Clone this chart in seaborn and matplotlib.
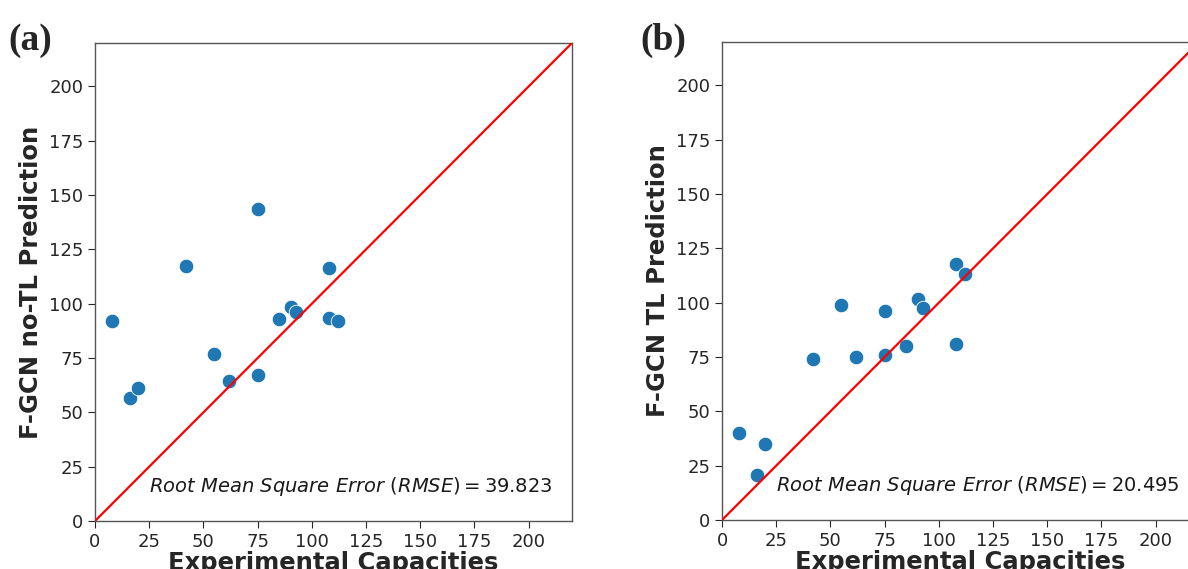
import numpy as np
import pandas as pd
import matplotlib
matplotlib.use("Agg")
import matplotlib.pyplot as plt
import seaborn as sns

# Data
experimental = [8, 16, 20, 42, 55, 62, 75, 75, 85, 90.5, 92.5, 108, 108, 112]
pred_no_tl = [92, 56.5, 61, 117.5, 77, 64.5, 143.5, 67, 93, 98.5, 96, 116.5, 93.5, 92]
pred_tl = [40, 20.5, 35, 74, 99, 75, 96, 76, 80, 101.5, 97.5, 118, 81, 113]
rmse_no_tl = "39.823"
rmse_tl = "20.495"
ticks = [0, 25, 50, 75, 100, 125, 150, 175, 200]
identity = [0, 220]

sns.set_style("ticks")
plt.rcParams["font.family"] = ["DejaVu Sans"]

fig = plt.figure(figsize=(11.88, 5.69), dpi=100)
axes_pos = [
    [95 / 1188, 48 / 569, 477 / 1188, 478 / 569],
    [722 / 1188, 49 / 569, 477 / 1188, 478 / 569],
]
panels = [
    (pred_no_tl, "F-GCN no-TL Prediction", rmse_no_tl, "(a)", 8 / 1188),
    (pred_tl, "F-GCN TL Prediction", rmse_tl, "(b)", 640 / 1188),
]

for pos, (pred, ylabel, rmse, tag, tagx) in zip(axes_pos, panels):
    ax = fig.add_axes(pos)
    df = pd.DataFrame({"x": experimental, "y": pred})
    sns.scatterplot(data=df, x="x", y="y", ax=ax, color="#1f77b4", s=110,
                    edgecolor="white", linewidth=0.6, zorder=2)
    sns.lineplot(x=identity, y=identity, ax=ax, color="red", linewidth=1.6, zorder=3)
    ax.set_xlim(0, 220)
    ax.set_ylim(0, 220)
    ax.set_xticks(ticks)
    ax.set_yticks(ticks)
    ax.tick_params(labelsize=13, colors="#262626", length=5)
    ax.set_xlabel("Experimental Capacities", fontsize=17.5, fontweight="bold", labelpad=0)
    ax.set_ylabel(ylabel, fontsize=17.5, fontweight="bold", labelpad=4)
    for sp in ax.spines.values():
        sp.set_color("#555555")
        sp.set_linewidth(1.0)
    ax.text(25, 13.5, r"$Root\ Mean\ Square\ Error\ (RMSE) = $" + rf"${rmse}$",
            fontsize=14, color="#1a1a1a")
    fig.text(tagx, 1 - 50 / 569, tag, fontsize=27, fontweight="bold",
             family="Liberation Serif")

fig.savefig("out.png", dpi=100)
